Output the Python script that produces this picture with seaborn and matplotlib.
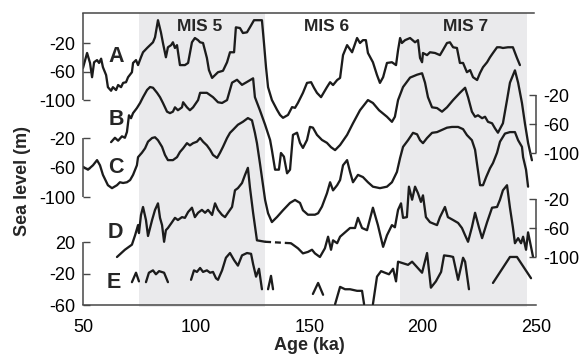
import numpy as np
import pandas as pd
import matplotlib
matplotlib.use("Agg")
import matplotlib.pyplot as plt
import seaborn as sns

# ---------------- data (age in ka, sea level in m) ----------------
A_age = [50.0, 51.8, 53.1, 54.0, 54.9, 56.2, 57.1, 58.0, 58.8, 60.2, 61.0, 62.4, 63.2, 64.6, 65.5, 66.8, 67.7, 69.0, 69.9, 71.6,
         72.1, 73.4, 74.3, 75.6, 76.5, 78.3, 79.6, 80.9, 81.8, 83.1, 84.4, 85.3, 86.6, 87.5, 88.9, 89.7, 90.6, 91.5, 92.8, 95.0,
         96.4, 98.1, 99.4, 100.8, 101.7, 103.0, 104.7, 105.6, 107.0, 108.3, 109.6, 111.8, 113.6, 114.9, 116.7, 117.5, 119.3, 120.6,
         122.4, 123.7, 125.5, 129.0, 129.9, 130.8, 131.7, 133.4, 135.7, 137.0, 138.3, 140.5, 142.3, 143.6, 144.9, 147.1, 148.9,
         150.7, 152.0, 153.3, 155.1, 156.4, 157.7, 159.1, 160.4, 162.2, 163.5, 164.8, 166.6, 168.8, 171.0, 172.3, 173.6, 174.9,
         175.8, 178.0, 179.8, 181.1, 182.5, 184.2, 186.4, 188.2, 189.1, 190.0, 190.8, 192.2, 194.4, 196.6, 197.9, 198.8, 199.7,
         200.1, 201.9, 203.2, 205.4, 207.6, 208.9, 210.7, 212.0, 213.4, 215.1, 216.4, 217.8, 219.5, 220.9, 222.2, 224.0, 225.3,
         226.6, 228.4, 229.7, 231.0, 232.8, 234.1, 235.4, 237.6, 239.8, 241.6, 242.9]
A_sl = [-55, -34, -48, -68, -47, -44, -48, -42, -54, -65, -82, -87, -82, -86, -79, -82, -76, -75, -68, -61,
        -48, -44, -51, -40, -33, -27, -23, -19, -12, 12, -5, -20, -40, -26, -23, -19, -27, -23, -51, -51,
        -48, -19, -13, -16, -19, -20, -41, -58, -69, -65, -61, -59, -47, -33, -33, 2, 1, -6, -5, 2,
        12, 12, -20, -54, -82, -100, -114, -121, -125, -121, -110, -111, -104, -90, -76, -75, -83, -90, -96, -89,
        -82, -75, -79, -72, -69, -37, -23, -33, -13, -20, -16, -16, -34, -47, -65, -76, -68, -48, -47, -51,
        -30, -13, -20, -16, -13, -19, -16, -41, -47, -34, -37, -33, -34, -37, -30, -20, -19, -26, -27, -48,
        -48, -61, -58, -68, -72, -62, -54, -47, -40, -34, -26, -26, -27, -26, -26, -41, -51]

B_age = [62.4, 64.1, 65.5, 67.2, 68.5, 69.4, 70.3, 71.2, 72.1, 73.8, 75.2, 76.5, 78.3, 79.6, 80.9, 82.7, 84.0, 85.3, 87.1,
         88.4, 89.7, 90.6, 91.9, 93.7, 94.2, 95.9, 97.2, 98.6, 100.8, 101.7, 104.7, 107.4, 109.6, 111.4, 113.6, 115.8, 118.0,
         120.2, 122.4, 125.1, 125.9, 128.1, 130.4, 132.6, 133.4, 134.8, 136.5, 137.4, 138.7, 140.1, 141.4, 142.7, 144.5, 145.8,
         147.1, 148.9, 150.2, 151.5, 153.3, 155.5, 157.7, 159.5, 161.3, 163.5, 166.6, 169.2, 172.3, 175.8, 178.0, 180.7, 184.2,
         186.4, 187.7, 189.1, 191.3, 194.4, 197.5, 199.7, 201.0, 202.3, 204.1, 206.3, 208.5, 210.7, 213.4, 216.4, 218.7, 220.0,
         221.7, 223.1, 224.4, 226.2, 227.5, 228.8, 230.6, 231.9, 233.2, 235.4, 237.2, 238.5, 240.7, 242.1, 243.8, 245.1, 246.5,
         248.2]
B_sl = [-85, -79, -83, -77, -79, -71, -48, -52, -45, -38, -31, -23, -13, -9, -10, -17, -23, -31, -43,
        -45, -43, -37, -41, -37, -30, -37, -41, -37, -27, -17, -17, -23, -30, -31, -27, -3, 1,
        -6, -2, 3, -23, -41, -61, -82, -96, -123, -123, -100, -105, -128, -123, -75, -72, -86,
        -93, -82, -64, -65, -75, -82, -86, -92, -96, -89, -75, -59, -41, -27, -31, -41, -50,
        -57, -50, -27, -9, 4, 8, 10, -3, -23, -37, -38, -43, -37, -27, -17, -10, -23,
        -43, -50, -48, -52, -50, -57, -59, -66, -72, -59, -27, -3, 14, -3, -31, -59, -86,
        -110]

C_age = [50.0, 52.2, 54.4, 56.2, 57.5, 58.8, 61.0, 62.8, 65.0, 66.3, 67.7, 69.4, 70.8, 72.1, 73.8, 74.3, 76.0, 77.4, 78.7,
         80.5, 81.8, 83.1, 84.9, 86.2, 87.5, 89.7, 91.5, 92.8, 94.2, 95.9, 97.2, 98.6, 100.3, 101.7, 103.0, 104.7, 106.1, 107.4,
         109.2, 110.5, 111.8, 113.6, 114.9, 116.2, 118.4, 120.6, 122.8, 124.6, 125.9, 126.8, 128.1, 130.4, 131.7, 133.4, 135.7,
         138.3, 141.4, 143.6, 145.8, 147.1, 149.3, 152.4, 153.8, 155.5, 157.7, 159.1, 160.4, 162.2, 163.5, 164.8, 166.6, 167.9,
         169.2, 171.4, 173.6, 175.8, 178.0, 181.1, 184.2, 186.4, 188.6, 190.0, 191.3, 193.5, 195.7, 197.5, 198.8, 200.1, 201.9,
         204.1, 206.3, 208.5, 210.7, 212.9, 215.6, 217.8, 219.5, 221.7, 223.1, 224.0, 225.3, 226.6, 228.0, 229.7, 231.0, 232.8,
         234.1, 236.3, 238.5, 240.7, 242.1, 243.8, 244.3, 245.6, 246.5]
C_sl = [-59, -63, -57, -50, -57, -70, -84, -88, -84, -80, -81, -80, -77, -70, -57, -46, -40, -34, -25,
        -20, -19, -23, -32, -43, -50, -50, -46, -39, -34, -27, -30, -27, -25, -20, -25, -30, -36, -43,
        -47, -40, -32, -20, -13, -9, -2, 2, 7, 4, -13, -27, -54, -104, -122, -134, -127,
        -118, -108, -104, -108, -118, -124, -124, -122, -113, -95, -80, -91, -84, -77, -57, -50, -66,
        -80, -70, -73, -80, -86, -88, -86, -80, -66, -47, -32, -23, -13, -15, -23, -27, -20,
        -13, -12, -9, -6, -5, -5, -8, -16, -23, -36, -56, -84, -84, -73, -61, -54, -40,
        -25, -14, -12, -12, -23, -32, -46, -63, -86]

# D: None separates the two measured parts (joined by a dashed line)
D_age = [65.0, 68.5, 71.6, 73.0, 74.3, 74.7, 75.6, 76.5, 77.8, 78.7, 80.5, 81.8, 83.1, 84.0, 84.9, 85.8, 86.6, 87.5, 89.3,
         90.6, 91.9, 93.7, 95.0, 96.4, 98.1, 99.4, 100.8, 102.5, 103.9, 105.2, 107.0, 108.3, 109.6, 111.4, 112.7, 114.0, 115.8,
         117.1, 118.4, 120.2, 121.5, 122.8, 123.7, 125.1, 126.8, 130.4, None,
         141.8, 142.7, 144.9, 147.1, 149.3, 151.1, 152.4, 154.6, 156.8, 158.2, 159.5, 160.4, 162.2, 163.5, 165.7, 167.9, 170.1,
         171.4, 173.2, 175.4, 178.0, 180.2, 182.5, 184.2, 186.4, 187.7, 189.1, 190.4, 191.3, 193.0, 193.9, 195.3, 196.6, 197.9,
         199.2, 200.1, 201.4, 203.2, 206.3, 207.6, 209.8, 211.1, 213.4, 215.6, 217.3, 218.7, 220.0, 221.7, 223.1, 224.8, 226.2,
         228.4, 230.6, 232.8, 234.1, 235.4, 237.2, 238.5, 239.8, 240.7, 242.1, 243.4, 244.3, 245.6, 246.5, 247.8, 248.7]
D_sl = [-100, -90, -83, -70, -56, -67, -42, -31, -49, -71, -49, -35, -26, -46, -56, -79, -63, -60, -52,
        -46, -49, -45, -46, -38, -32, -45, -39, -35, -39, -35, -42, -26, -35, -42, -45, -39, -31,
        -8, -5, 2, 13, 23, -4, -39, -77, -79, None,
        -81, -83, -88, -95, -93, -90, -95, -100, -88, -72, -90, -77, -81, -72, -66, -60, -60,
        -46, -60, -63, -32, -56, -86, -70, -56, -59, -35, -26, -46, -45, -3, -21, -3, -12,
        -24, -15, -45, -52, -56, -45, -31, -45, -49, -53, -60, -70, -79, -59, -39, -59, -74,
        -52, -32, -31, -21, -8, -1, -32, -59, -81, -74, -81, -72, -90, -66, -86, -100]

# E: None separates gaps in the record
E_age = [71.6, 73.4, 74.7, None, 77.8, 79.1, 80.9, 82.2, 83.6, 85.8, 87.5, None,
         97.7, 99.0, 100.3, 101.7, 103.0, 104.7, 106.1, 107.4, 108.7, 109.6, 111.4, 113.1, 114.9, 116.7, 118.4, 120.2,
         122.4, 124.2, 125.1, 126.4, 127.7, 129.0, None, 131.7, 133.0, 133.9, None, 151.5, 153.8, 156.0, None,
         161.3, 163.5, 165.7, 167.9, 171.0, 173.2, 174.1, None,
         178.0, 179.8, 181.6, 183.3, 185.1, 186.9, 188.2, 189.1, 191.3, 193.5, 195.3, 197.5, 199.7, 201.9, 203.6, 205.8,
         208.1, 209.4, 212.0, 213.4, 215.6, 217.8, 218.7, 220.4, None, 231.0, 238.5, 241.6, 247.8]
E_sl = [-31, -19, -30, None, -31, -19, -16, -21, -17, -19, -31, None,
        -28, -16, -18, -13, -18, -16, -19, -18, -26, -28, -16, 0, 6, -3, -10, 3,
        6, 5, -8, -24, -14, -40, None, -40, -23, -40, None, -46, -32, -47, None,
        -59, -37, -40, -40, -42, -42, -59, None,
        -59, -24, -17, -19, -21, -14, -30, -5, -7, -9, -5, -12, -19, 6, -38, -30,
        -18, 3, 2, 1, -28, 0, -5, -40, None, -32, 1, 1, -26]

MIS_LABELS = ["MIS 5", "MIS 6", "MIS 7"]
MIS_CENTERS = [101.7, 157.7, 219.1]
MIS_SHADED = [(74.8, 130.4), (190.0, 246.0)]
X_TICKS = [50, 100, 150, 200, 250]

# ---------------- layout (pixel geometry of the reference) ----------------
W, H = 579, 359
AX_L, AX_R, AX_T, AX_B = 83, 536, 13, 305
# each record: (two reference values, their pixel rows), axis side, tick values
PANELS = {
    "A": dict(v=(-20, -100), p=(43, 100), side="left", ticks=[-20, -60, -100], spine=(13, 100)),
    "B": dict(v=(-20, -100), p=(95, 153), side="right", ticks=[-20, -60, -100], spine=(95, 153)),
    "C": dict(v=(-20, -100), p=(138, 197), side="left", ticks=[-20, -60, -100], spine=(138, 197)),
    "D": dict(v=(-20, -100), p=(199, 257), side="right", ticks=[-20, -60, -100], spine=(199, 257)),
    "E": dict(v=(20, -60), p=(242, 305), side="left", ticks=[20, -20, -60], spine=(242, 305)),
}
LETTER_POS = {"A": (64.6, 56), "B": (64.6, 119), "C": (64.6, 167), "D": (64.1, 232), "E": (63.7, 282)}

LINE = "#1c1c1c"
SPINE = "#474747"
SHADE = "#eaeaec"
LW = 1.65


def to_plot(name, v):
    (v1, v2), (p1, p2) = PANELS[name]["v"], PANELS[name]["p"]
    pix = p1 + (np.asarray(v, dtype=float) - v1) * (p2 - p1) / (v2 - v1)
    return -pix


def make_df(name, ages, levels):
    rows, seg = [], 0
    for a, s in zip(ages, levels):
        if a is None or s is None:
            seg += 1
            continue
        rows.append((a, s, seg))
    df = pd.DataFrame(rows, columns=["age", "sea_level", "seg"])
    df["y"] = to_plot(name, df["sea_level"])
    return df


sns.set_style("white")
plt.rcParams["font.family"] = ["Liberation Sans", "DejaVu Sans"]
plt.rcParams["axes.unicode_minus"] = False

fig = plt.figure(figsize=(W / 100, H / 100), dpi=100)
ax = fig.add_axes([AX_L / W, 1 - AX_B / H, (AX_R - AX_L) / W, (AX_B - AX_T) / H])
ax.set_xlim(50, 250)
ax.set_ylim(-AX_B, -AX_T)

for lo, hi in MIS_SHADED:
    r = ax.axvspan(lo, hi, ymin=-0.008, ymax=1, color=SHADE, lw=0, zorder=0)
    r.set_clip_on(False)

for name, ages, levels in [("A", A_age, A_sl), ("B", B_age, B_sl), ("C", C_age, C_sl),
                           ("D", D_age, D_sl), ("E", E_age, E_sl)]:
    df = make_df(name, ages, levels)
    sns.lineplot(data=df, x="age", y="y", units="seg", estimator=None, sort=False,
                 color=LINE, lw=LW, ax=ax, legend=False, zorder=3)
    if name == "D":
        gap = pd.concat([df[df.seg == 0].tail(1), df[df.seg == 1].head(1)])
        sns.lineplot(data=gap, x="age", y="y", estimator=None, sort=False, color=LINE,
                     lw=LW, linestyle=(0, (2.6, 1.7)), ax=ax, legend=False, zorder=3)

# MIS labels and record letters
for lab, xc in zip(MIS_LABELS, MIS_CENTERS):
    ax.text(xc, -26, lab, ha="center", va="center", fontsize=12.5, fontweight="bold", zorder=4)
for name, (xa, py) in LETTER_POS.items():
    ax.text(xa, -py, name, ha="center", va="center", fontsize=15.5, fontweight="bold", zorder=4)

# y ticks (left: A, C, E; right: B, D)
left_pos, left_lab, right_pos, right_lab = [], [], [], []
for name, cfg in PANELS.items():
    for t in cfg["ticks"]:
        if cfg["side"] == "left":
            left_pos.append(float(to_plot(name, t))); left_lab.append(str(t))
        else:
            right_pos.append(float(to_plot(name, t))); right_lab.append(str(t))
ax.set_yticks(left_pos, left_lab)
ax.set_xticks(X_TICKS, [str(t) for t in X_TICKS])
ax.set_xlabel("Age (ka)", fontsize=13, fontweight="bold", labelpad=1)
ax.set_ylabel("")

ax2 = ax.twinx()
ax2.set_ylim(ax.get_ylim())
ax2.set_yticks(right_pos, right_lab)

for a in (ax, ax2):
    for s in a.spines.values():
        s.set_visible(False)
    a.tick_params(axis="y", direction="in", length=5, width=1, color=SPINE, pad=5.5,
                  labelsize=13, labelcolor="black")
ax.tick_params(axis="x", direction="in", length=5, width=1, color=SPINE, pad=10,
               labelsize=13, labelcolor="black")

ax.spines["bottom"].set_visible(True)
ax.spines["top"].set_visible(True)
ax.spines["top"].set_bounds(50, 249)
for k in ("bottom", "top"):
    ax.spines[k].set_color(SPINE)
    ax.spines[k].set_linewidth(1.1)

# segmented vertical axis lines
for name, cfg in PANELS.items():
    xa = 0 if cfg["side"] == "left" else 1
    y0, y1 = cfg["spine"]
    ax.plot([xa, xa], [-y0, -y1], transform=ax.get_yaxis_transform(), color=SPINE,
            lw=1.1, clip_on=False, zorder=5, solid_capstyle="butt")

fig.text(23 / W, 1 - 181 / H, "Sea level (m)", rotation=90, ha="center", va="center",
         fontsize=13, fontweight="bold")

fig.savefig("out.png", dpi=100)
